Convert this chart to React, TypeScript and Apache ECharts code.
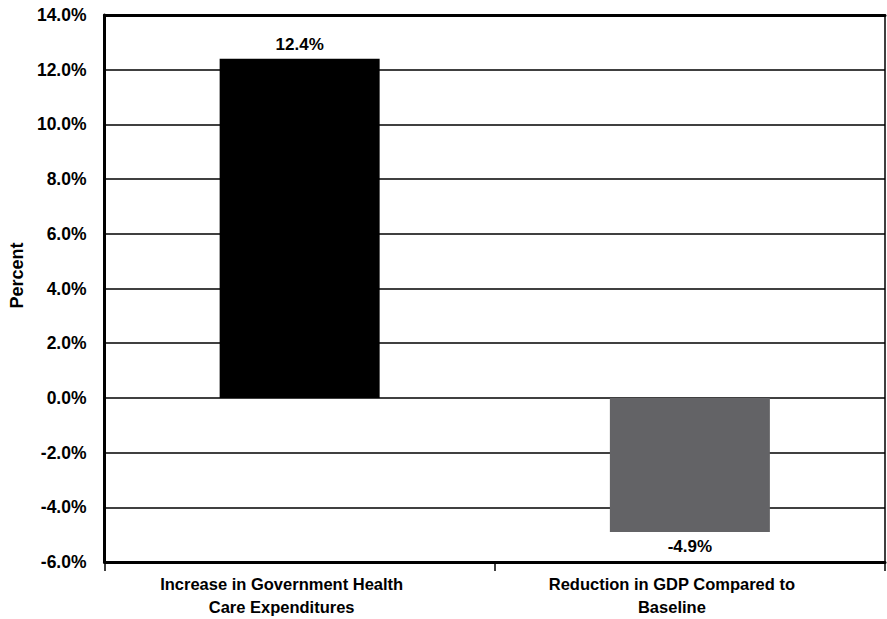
import React, { useEffect, useRef } from "react";
import * as echarts from "echarts";

const categories = [
  "Increase in Government Health\nCare Expenditures",
  "Reduction in GDP Compared to\nBaseline",
];
const values = [12.4, -4.9];
const barColors = ["#000000", "#636366"];

const FONT = "Liberation Sans, Arial, sans-serif";
const FS = 16.5;

export default function App() {
  const ref = useRef<HTMLDivElement>(null);
  useEffect(() => {
    if (!ref.current) return;
    const chart = echarts.init(ref.current, null, { renderer: "svg" });
    chart.setOption({
      animation: false,
      backgroundColor: "#ffffff",
      grid: {
        left: 98,
        right: 2,
        top: 15,
        bottom: 57,
        show: true,
        borderColor: "#000",
        borderWidth: 1.5,
        containLabel: false,
      },
      xAxis: [
        {
          type: "category",
          data: categories,
          position: "bottom",
          axisLine: { show: true, onZero: false, lineStyle: { color: "#000", width: 3 } },
          axisTick: { show: true, length: 9, lineStyle: { color: "#000", width: 1.5 } },
          axisLabel: {
            color: "#000",
            fontFamily: FONT,
            fontWeight: "bold",
            fontSize: FS,
            lineHeight: 23,
            margin: 10,
            interval: 0,
            padding: [0, 36, 0, 0],
          },
        },
        {
          type: "category",
          data: categories,
          position: "top",
          axisLine: { show: true, onZero: false, lineStyle: { color: "#000", width: 3 } },
          axisTick: { show: false },
          axisLabel: { show: false },
        },
      ],
      yAxis: {
        type: "value",
        min: -6,
        max: 14,
        interval: 2,
        name: "Percent",
        nameLocation: "middle",
        nameGap: 76,
        nameRotate: 90,
        nameTextStyle: {
          color: "#000",
          fontFamily: FONT,
          fontWeight: "bold",
          fontSize: 18,
          padding: [0, 0, 0, 26],
        },
        axisLine: { show: true, lineStyle: { color: "#000", width: 3 } },
        axisTick: { show: false },
        splitLine: { show: true, lineStyle: { color: "#000", width: 1.5 } },
        axisLabel: {
          color: "#000",
          fontFamily: FONT,
          fontWeight: "bold",
          fontSize: 17.5,
          margin: 18,
          formatter: (v: number) => v.toFixed(1) + "%",
        },
      },
      series: [
        {
          type: "bar",
          barWidth: "41%",
          data: values.map((v, i) => ({
            value: v,
            itemStyle: { color: barColors[i] },
            label: {
              show: true,
              position: v >= 0 ? "top" : "bottom",
              distance: 6,
              color: "#000",
              fontFamily: FONT,
              fontWeight: "bold",
              fontSize: 17,
              formatter: (p: any) => Number(p.value).toFixed(1) + "%",
            },
          })),
        },
      ],
    });
    return () => chart.dispose();
  }, []);
  return (
    <div
      ref={ref}
      style={{ position: "absolute", left: 0, top: 0, width: 887, height: 619 }}
    />
  );
}
